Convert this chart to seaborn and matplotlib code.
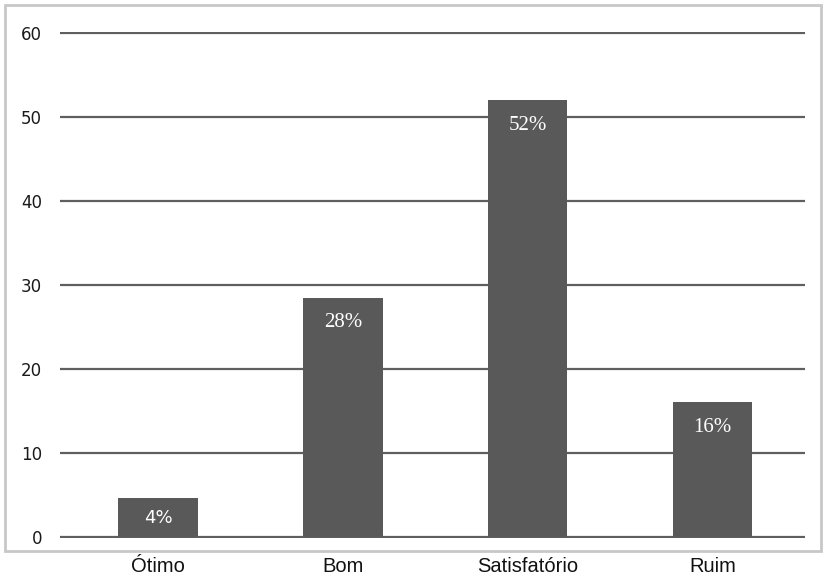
import matplotlib
matplotlib.use("Agg")
import matplotlib.pyplot as plt
import matplotlib.patches as mpatches
import seaborn as sns
import pandas as pd

# data
categorias = ["Ótimo", "Bom", "Satisfatório", "Ruim"]
valores = [4.6, 28.5, 52, 16]
rotulos = ["4%", "28%", "52%", "16%"]
yticks = [0, 10, 20, 30, 40, 50, 60]

sns.set_style("white")

df = pd.DataFrame({"categoria": categorias, "valor": valores})

fig = plt.figure(figsize=(8.23, 5.79), dpi=100)
ax = fig.add_axes([60 / 823, 1 - 538 / 579, 745 / 823, 506 / 579])

sns.barplot(data=df, x="categoria", y="valor", color="#595959", width=0.43,
            saturation=1, linewidth=0, ax=ax, zorder=3)

ax.set_ylim(-0.15, 60.15)
ax.set_xlim(-0.53, 3.5)
ax.set_yticks(yticks)
ax.yaxis.grid(True, color="#5f5f5f", linewidth=1.6, zorder=0)
ax.set_axisbelow(True)
for s in ax.spines.values():
    s.set_visible(False)
ax.set_xlabel("")
ax.set_ylabel("")
ax.tick_params(axis="y", length=0, pad=13, labelsize=12, labelcolor="#1a1a1a")
ax.tick_params(axis="x", length=0, pad=14, labelcolor="#111111")
for t in ax.get_yticklabels():
    t.set_fontfamily("DejaVu Sans")
for t in ax.get_xticklabels():
    t.set_fontfamily("Liberation Sans")
    t.set_fontsize(14.5)

# labels inside the bars
cont = ax.containers[0]
txts = ax.bar_label(cont, labels=rotulos, padding=-25, color="white", fontsize=15,
                    family="Liberation Serif")
# the short first bar keeps its label a bit higher, in a sans font
txts[0].set_fontfamily("DejaVu Sans")
txts[0].set_fontsize(13)
txts[0].xyann = (0, -21)

# light gray frame around the chart area
fig.patches.append(mpatches.Rectangle((5 / 823, 1 - 551 / 579), 816 / 823, 546 / 579,
                                      transform=fig.transFigure, fill=False,
                                      edgecolor="#c8c8c8", linewidth=2))

fig.savefig("out.png", dpi=100)
plt.close(fig)
